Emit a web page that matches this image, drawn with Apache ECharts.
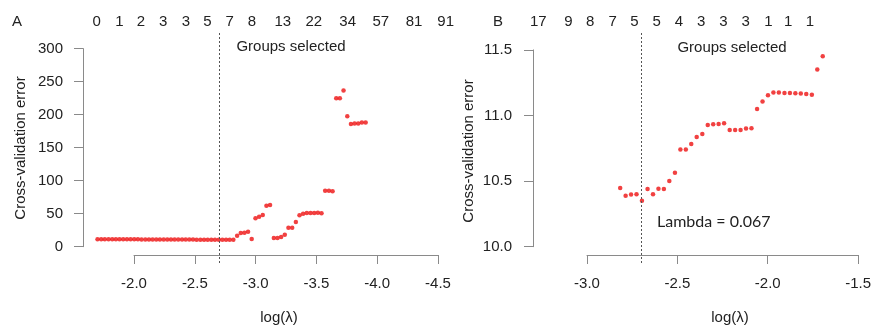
<!DOCTYPE html>
<html>
<head>
<meta charset="utf-8">
<title>Cross-validation error vs log(lambda)</title>
<script src="https://cdn.jsdelivr.net/npm/echarts@6/dist/echarts.min.js"></script>
<style>
  html, body { margin: 0; padding: 0; background: #fff; }
  #main { width: 874px; height: 327px; }
</style>
</head>
<body>
<div id="main"></div>
<script>
// log(lambda) of every fitted model (panel A reads them right to left)
var logLambda = [
  -1.700, -1.730, -1.760, -1.791, -1.821, -1.851, -1.881, -1.911, -1.942, -1.972,
  -2.002, -2.032, -2.062, -2.093, -2.123, -2.153, -2.183, -2.213, -2.244, -2.274,
  -2.304, -2.334, -2.364, -2.395, -2.425, -2.455, -2.485, -2.515, -2.546, -2.576,
  -2.606, -2.636, -2.666, -2.697, -2.727, -2.757, -2.787, -2.817, -2.848, -2.878,
  -2.908, -2.938, -2.968, -2.999, -3.029, -3.059, -3.089, -3.119, -3.150, -3.180,
  -3.210, -3.240, -3.270, -3.301, -3.331, -3.361, -3.391, -3.421, -3.452, -3.482,
  -3.512, -3.542, -3.572, -3.603, -3.633, -3.663, -3.693, -3.723, -3.754, -3.784,
  -3.814, -3.844, -3.874, -3.905
];
// cross-validation error of each model
var cvError = [
  11.452, 11.350, 11.159, 11.164, 11.167, 11.169, 11.172, 11.172, 11.175, 11.175,
  11.154, 11.106, 11.050, 10.903, 10.900, 10.890, 10.890, 10.890, 10.941, 10.936,
  10.933, 10.928, 10.859, 10.836, 10.783, 10.740, 10.740, 10.564, 10.501, 10.440,
  10.442, 10.399, 10.440, 10.351, 10.399, 10.397, 10.389, 10.447, 16.7, 20.7,
  21.2, 22.7, 11.7, 43.0, 45.5, 48.0, 62.0, 63.0, 13.2, 13.2,
  14.7, 18.2, 28.8, 28.8, 37.4, 47.5, 50.0, 51.0, 51.0, 51.0,
  51.5, 50.5, 84.8, 84.8, 83.9, 224.8, 224.8, 236.4, 197.6, 186.0,
  186.4, 186.4, 187.9, 187.9
];
// panel B zooms on the first models only
var nZoomB = 38;
var lambdaMinLog = -2.697;

// groups selected, printed along the top of each panel
var groupsA = [0, 1, 2, 3, 3, 5, 7, 8, 13, 22, 34, 57, 81, 91];
var groupsAtA = [-1.694, -1.880, -2.057, -2.240, -2.426, -2.604, -2.787, -2.970,
                 -3.224, -3.478, -3.757, -4.030, -4.303, -4.563];
var groupsB = [17, 9, 8, 7, 5, 5, 4, 3, 3, 3, 1, 1, 1];
var groupsAtB = [-3.269, -3.103, -2.983, -2.858, -2.739, -2.616, -2.493, -2.371,
                 -2.248, -2.125, -2.000, -1.890, -1.770];

// axis tick ranges [min, max, step]
var xTicksA = [-4.5, -2.0, 0.5];
var yTicksA = [0, 300, 50];
var xTicksB = [-3.0, -1.5, 0.5];
var yTicksB = [10.0, 11.5, 0.5];

var FONT = 'Liberation Sans, Arial, sans-serif';
var TXT = '#222';
var AXC = '#8a8a8a';

function pairs(xs, ys, n) {
    var out = [];
    for (var i = 0; i < n; i++) out.push([xs[i], ys[i]]);
    return out;
}
function nearestLabel(at, labels, v) {
    var best = 0;
    for (var i = 1; i < at.length; i++) {
        if (Math.abs(at[i] - v) < Math.abs(at[best] - v)) best = i;
    }
    return String(labels[best]);
}

var myChart = echarts.init(document.getElementById('main'), null, {renderer: 'canvas'});

var hidden = {type: 'value', show: false, splitLine: {show: false}};
function tickAxis(r, extra) {
    var a = {
        type: 'value', min: r[0], max: r[1], interval: r[2],
        axisLine: {show: true, lineStyle: {color: AXC, width: 1}},
        axisTick: {show: true, length: 9, lineStyle: {color: AXC}},
        axisLabel: {color: TXT, fontFamily: FONT, fontSize: 15, margin: 21,
            formatter: function (v) { return v.toFixed(1); }},
        splitLine: {show: false}
    };
    for (var k in extra) a[k] = extra[k];
    return a;
}
function topAxis(grid, min, max, inverse, at, labels) {
    return {
        type: 'value', gridIndex: grid, position: 'top', min: min, max: max, inverse: inverse,
        axisLine: {show: false}, axisTick: {show: false}, splitLine: {show: false},
        axisLabel: {
            show: true, customValues: at, margin: 4,
            color: TXT, fontFamily: FONT, fontSize: 15,
            formatter: function (v) { return nearestLabel(at, labels, v); }
        }
    };
}

var yAxisA = tickAxis(yTicksA, {gridIndex: 1, position: 'left'});
yAxisA.axisLabel = {color: TXT, fontFamily: FONT, fontSize: 15, margin: 20};
var yAxisB = tickAxis(yTicksB, {gridIndex: 4, position: 'left'});

var dashed = {color: '#555', type: [2, 2], width: 1};

var option = {
    animation: false,
    backgroundColor: '#fff',
    grid: [
        {left: 85.36, width: 364.8, top: 33, height: 230},   // data A
        {left: 83, width: 10, top: 48.6, height: 198.1},     // y axis A
        {left: 134, width: 304, top: 200, height: 55},       // x axis A
        {left: 532.6, width: 326.4, top: 33, height: 230},   // data B
        {left: 533, width: 10, top: 49.9, height: 196.8},    // y axis B
        {left: 587, width: 272, top: 200, height: 55}        // x axis B
    ],
    xAxis: [
        Object.assign({gridIndex: 0, min: -4.6, max: -1.6, inverse: true}, hidden),
        topAxis(0, -4.6, -1.6, true, groupsAtA, groupsA),
        Object.assign({gridIndex: 1}, hidden),
        tickAxis(xTicksA, {gridIndex: 2, inverse: true, position: 'bottom'}),
        Object.assign({gridIndex: 3, min: -3.3, max: -1.5}, hidden),
        topAxis(3, -3.3, -1.5, false, groupsAtB, groupsB),
        Object.assign({gridIndex: 4}, hidden),
        tickAxis(xTicksB, {gridIndex: 5, position: 'bottom'})
    ],
    yAxis: [
        Object.assign({gridIndex: 0, min: -24.69, max: 323.63}, hidden),
        yAxisA,
        Object.assign({gridIndex: 2}, hidden),
        Object.assign({gridIndex: 3, min: 9.8758, max: 11.6288}, hidden),
        yAxisB,
        Object.assign({gridIndex: 5}, hidden)
    ],
    series: [
        {
            type: 'scatter', xAxisIndex: 0, yAxisIndex: 0,
            data: pairs(logLambda, cvError, logLambda.length),
            symbolSize: 4.5, itemStyle: {color: '#ee1111'},
            markLine: {silent: true, symbol: 'none', label: {show: false},
                lineStyle: dashed, data: [{xAxis: lambdaMinLog}]}
        },
        {
            type: 'scatter', xAxisIndex: 4, yAxisIndex: 3,
            data: pairs(logLambda, cvError, nZoomB),
            symbolSize: 4.5, itemStyle: {color: '#ee1111'},
            markLine: {silent: true, symbol: 'none', label: {show: false},
                lineStyle: dashed, data: [{xAxis: lambdaMinLog}]}
        }
    ],
    graphic: [
        {type: 'text', x: 17, y: 22, style: {text: 'A', font: '15px ' + FONT, fill: TXT, textAlign: 'center', textVerticalAlign: 'middle'}},
        {type: 'text', x: 498, y: 22, style: {text: 'B', font: '15px ' + FONT, fill: TXT, textAlign: 'center', textVerticalAlign: 'middle'}},
        {type: 'text', x: 291, y: 47, style: {text: 'Groups selected', font: '15px ' + FONT, fill: TXT, textAlign: 'center', textVerticalAlign: 'middle'}},
        {type: 'text', x: 732, y: 48, style: {text: 'Groups selected', font: '15px ' + FONT, fill: TXT, textAlign: 'center', textVerticalAlign: 'middle'}},
        {type: 'text', x: 657, y: 222, style: {text: 'Lambda = 0.067', font: '16px Lato, sans-serif', fill: TXT, textAlign: 'left', textVerticalAlign: 'middle'}},
        {type: 'text', x: 21, y: 148, rotation: Math.PI / 2, style: {text: 'Cross-validation error', font: '15px ' + FONT, fill: TXT, textAlign: 'center', textVerticalAlign: 'middle'}},
        {type: 'text', x: 469, y: 151, rotation: Math.PI / 2, style: {text: 'Cross-validation error', font: '15px ' + FONT, fill: TXT, textAlign: 'center', textVerticalAlign: 'middle'}},
        {type: 'text', x: 279, y: 318, style: {text: 'log(\u03bb)', font: '15px ' + FONT, fill: TXT, textAlign: 'center', textVerticalAlign: 'middle'}},
        {type: 'text', x: 730, y: 318, style: {text: 'log(\u03bb)', font: '15px ' + FONT, fill: TXT, textAlign: 'center', textVerticalAlign: 'middle'}}
    ]
};
myChart.setOption(option);
</script>
</body>
</html>
